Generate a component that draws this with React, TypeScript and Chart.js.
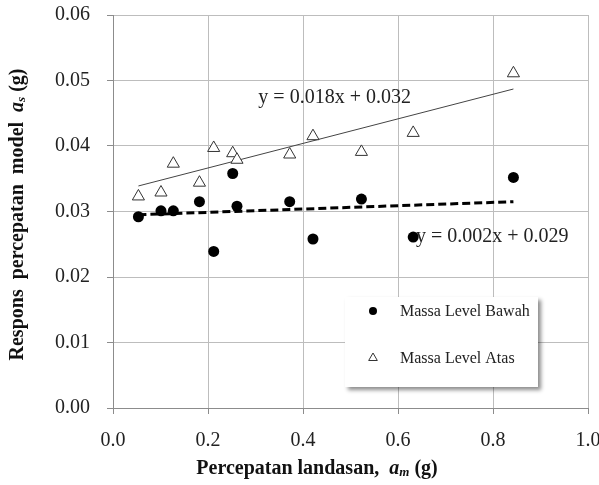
import { useEffect, useRef } from "react";
import { Chart, registerables } from "chart.js";

Chart.register(...registerables);

// ---- data ----
const bawahX = [0.0535, 0.101, 0.127, 0.182, 0.212, 0.252, 0.261, 0.372, 0.421, 0.523, 0.632, 0.843];
const bawahY = [0.0292, 0.0301, 0.0301, 0.0315, 0.0239, 0.0358, 0.0308, 0.0315, 0.0258, 0.0319, 0.0261, 0.0352];
const atasX = [0.0535, 0.101, 0.127, 0.182, 0.212, 0.252, 0.261, 0.372, 0.421, 0.523, 0.632, 0.843];
const atasY = [0.0323, 0.0329, 0.0373, 0.0344, 0.0397, 0.0389, 0.0379, 0.0387, 0.0415, 0.0391, 0.042, 0.0511];
const trendX = [0.0535, 0.843];
const trendAtasY = [0.0339, 0.0487];
const trendBawahY = [0.0295, 0.0315];
const xTicks = [0, 0.2, 0.4, 0.6, 0.8, 1.0];
const yTicks = [0, 0.01, 0.02, 0.03, 0.04, 0.05, 0.06];
const seriesNames = ["Massa Level Bawah", "Massa Level Atas"];
const equations = [
  { text: "y = 0.018x + 0.032", x: 0.306, y: 0.0473 },
  { text: "y = 0.002x + 0.029", x: 0.638, y: 0.0261 },
];

const SERIF = '"Liberation Serif", "Times New Roman", serif';

function zip(xs: number[], ys: number[]) {
  return xs.map((x, i) => ({ x, y: ys[i] }));
}

function drawRich(
  ctx: CanvasRenderingContext2D,
  parts: { t: string; font: string; dy?: number }[],
  cx: number,
  cy: number
) {
  let total = 0;
  for (const p of parts) {
    ctx.font = p.font;
    total += ctx.measureText(p.t).width;
  }
  let x = cx - total / 2;
  ctx.textAlign = "left";
  ctx.textBaseline = "middle";
  for (const p of parts) {
    ctx.font = p.font;
    ctx.fillText(p.t, x, cy + (p.dy || 0));
    x += ctx.measureText(p.t).width;
  }
}

const extrasPlugin = {
  id: "extras",
  afterDatasetsDraw(chart: any) {
    const ctx: CanvasRenderingContext2D = chart.ctx;
    const xs = chart.scales.x;
    const ys = chart.scales.y;
    const area = chart.chartArea;
    ctx.save();
    // equations
    ctx.fillStyle = "#222";
    ctx.font = `20px ${SERIF}`;
    ctx.textAlign = "left";
    ctx.textBaseline = "middle";
    for (const e of equations) {
      ctx.fillText(e.text, xs.getPixelForValue(e.x), ys.getPixelForValue(e.y));
    }
    // legend box
    const bx = area.left + 232;
    const by = area.top + 282;
    const bw = 193;
    const bh = 90;
    ctx.save();
    ctx.shadowColor = "rgba(0,0,0,0.45)";
    ctx.shadowBlur = 4;
    ctx.shadowOffsetX = 3;
    ctx.shadowOffsetY = 3;
    ctx.fillStyle = "#fff";
    ctx.fillRect(bx, by, bw, bh);
    ctx.restore();
    const ds = chart.data.datasets;
    const rows = [by + 14, by + 61];
    for (let i = 0; i < 2; i++) {
      const d = ds[i];
      ctx.save();
      ctx.fillStyle = d.backgroundColor;
      ctx.strokeStyle = d.borderColor;
      ctx.lineWidth = 1;
      const px = bx + 28;
      const py = rows[i];
      if (d.pointStyle === "triangle") {
        const r = 5;
        ctx.beginPath();
        ctx.moveTo(px, py - r);
        ctx.lineTo(px + r * 0.866, py + r * 0.5);
        ctx.lineTo(px - r * 0.866, py + r * 0.5);
        ctx.closePath();
        ctx.fill();
        ctx.stroke();
      } else {
        ctx.beginPath();
        ctx.arc(px, py, 4, 0, Math.PI * 2);
        ctx.fill();
      }
      ctx.restore();
      ctx.fillStyle = "#222";
      ctx.font = `16px ${SERIF}`;
      ctx.textAlign = "left";
      ctx.textBaseline = "middle";
      ctx.fillText(seriesNames[i], bx + 55, rows[i] + 1);
    }
    ctx.restore();
  },
  afterDraw(chart: any) {
    const ctx: CanvasRenderingContext2D = chart.ctx;
    const area = chart.chartArea;
    ctx.save();
    ctx.fillStyle = "#111";
    const b = `bold 20px ${SERIF}`;
    const bi = `italic bold 20px ${SERIF}`;
    const sub = `italic bold 13px ${SERIF}`;
    drawRich(
      ctx,
      [
        { t: "Percepatan landasan,  ", font: b },
        { t: "a", font: bi },
        { t: "m", font: sub, dy: 4 },
        { t: " (g)", font: b },
      ],
      317,
      469
    );
    ctx.translate(18, (area.top + area.bottom) / 2 + 3);
    ctx.rotate(-Math.PI / 2);
    drawRich(
      ctx,
      [
        { t: "Respons  percepatan  model  ", font: b },
        { t: "a", font: bi },
        { t: "s", font: sub, dy: 4 },
        { t: " (g)", font: b },
      ],
      0,
      0
    );
    ctx.restore();
  },
};

export default function App() {
  const ref = useRef<HTMLCanvasElement | null>(null);
  useEffect(() => {
    if (!ref.current) return;
    const chart = new Chart(ref.current, {
      type: "scatter",
      data: {
        datasets: [
          {
            label: seriesNames[0],
            data: zip(bawahX, bawahY),
            pointStyle: "circle",
            pointRadius: 5.5,
            backgroundColor: "#000",
            borderColor: "#000",
            borderWidth: 0,
            order: 1,
          } as any,
          {
            label: seriesNames[1],
            data: zip(atasX, atasY),
            pointStyle: "triangle",
            pointRadius: 7,
            backgroundColor: "#fff",
            borderColor: "#333",
            borderWidth: 1,
            order: 2,
          } as any,
          {
            label: "trend atas",
            data: zip(trendX, trendAtasY),
            showLine: true,
            pointRadius: 0,
            borderColor: "#444",
            borderWidth: 1,
            order: 3,
          } as any,
          {
            label: "trend bawah",
            data: zip(trendX, trendBawahY),
            showLine: true,
            pointRadius: 0,
            borderColor: "#000",
            borderWidth: 3,
            borderDash: [8, 4],
            order: 3,
          } as any,
        ],
      },
      options: {
        animation: false,
        responsive: false,
        layout: { padding: { left: 0, top: 15, right: 11, bottom: 0 } },
        plugins: { legend: { display: false }, tooltip: { enabled: false } },
        scales: {
          x: {
            type: "linear",
            min: 0,
            max: 1,
            afterBuildTicks: (s: any) => {
              s.ticks = xTicks.map((v) => ({ value: v }));
            },
            afterFit: (s: any) => {
              s.height = 77;
              s.paddingLeft = 0;
              s.paddingRight = 0;
            },
            grid: { color: "#bdbdbd", tickColor: "#8c8c8c", tickLength: 6, lineWidth: 1 },
            border: { color: "#8c8c8c" },
            ticks: {
              padding: 15,
              color: "#222",
              font: { family: SERIF, size: 20 },
              callback: (v: any) => Number(v).toFixed(1),
              maxRotation: 0,
            },
          },
          y: {
            type: "linear",
            min: 0,
            max: 0.06,
            afterBuildTicks: (s: any) => {
              s.ticks = yTicks.map((v) => ({ value: v }));
            },
            afterFit: (s: any) => {
              s.width = 113;
              s.paddingTop = 0;
              s.paddingBottom = 0;
            },
            grid: { color: "#bdbdbd", tickColor: "#8c8c8c", tickLength: 6, lineWidth: 1 },
            border: { color: "#8c8c8c" },
            ticks: {
              padding: 17,
              color: "#222",
              font: { family: SERIF, size: 20 },
              callback: (v: any) => Number(v).toFixed(2),
            },
          },
        },
      },
      plugins: [extrasPlugin],
    });
    return () => chart.destroy();
  }, []);
  return (
    <div style={{ position: "absolute", left: 0, top: 0, width: 599, height: 485, background: "#fff" }}>
      <canvas ref={ref} width={599} height={485} />
    </div>
  );
}
